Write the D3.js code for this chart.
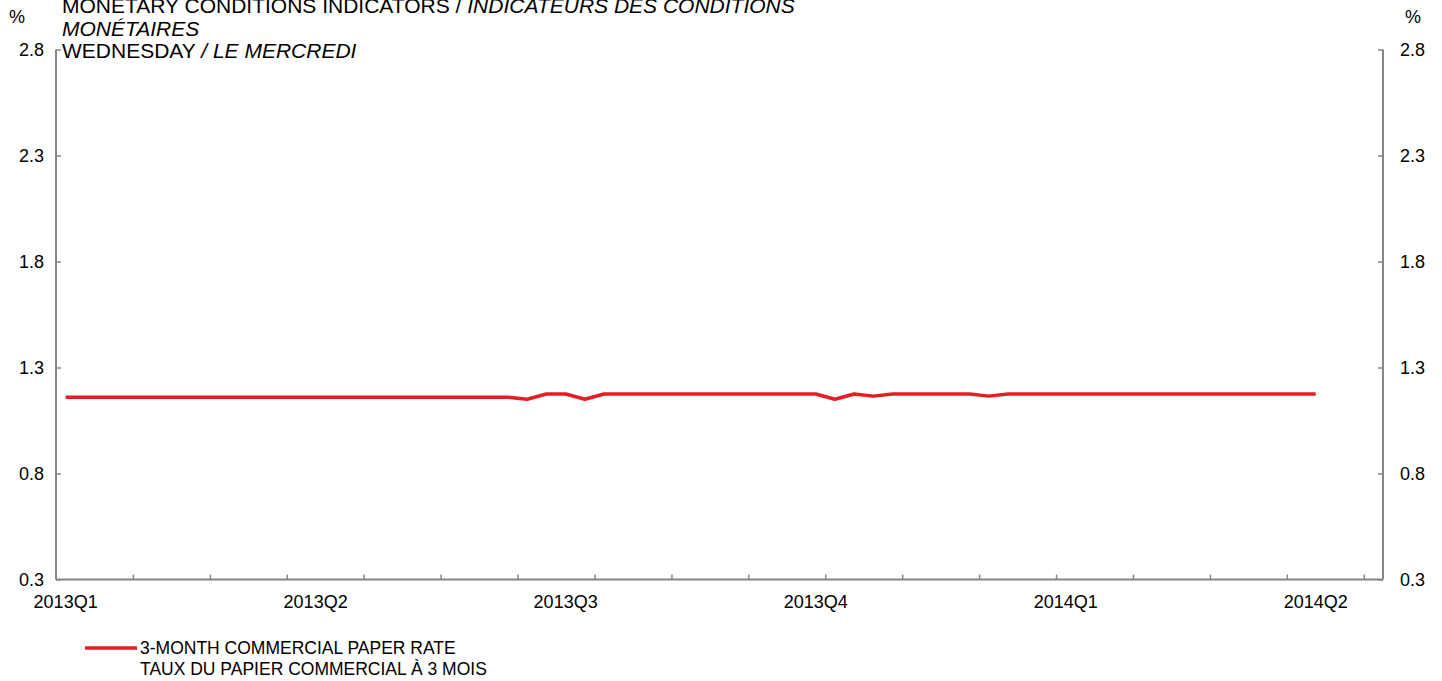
<!DOCTYPE html>
<html>
<head>
<meta charset="utf-8">
<script src="https://cdn.jsdelivr.net/npm/d3@7"></script>
<style>
    body { margin: 0; background: #fff; }
    svg { display: block; font-family: "Liberation Sans", Arial, sans-serif; }
    .axis path, .axis line { stroke: #868686; }
</style>
</head>
<body>
<svg id="chart" width="1442" height="681"></svg>
<script>
// weekly observations (Wednesdays), 2013-01-02 .. 2014-04-02
var startDate = new Date(2013, 0, 2),
    nWeeks = 66,
    nSlots = 69; // axis has a few empty weeks after the last point

// 3-month commercial paper rate, %
var cpRate = [
    1.16, 1.16, 1.16, 1.16, 1.16, 1.16, 1.16, 1.16, 1.16, 1.16,
    1.16, 1.16, 1.16, 1.16, 1.16, 1.16, 1.16, 1.16, 1.16, 1.16,
    1.16, 1.16, 1.16, 1.16, 1.15, 1.175, 1.175, 1.15, 1.175, 1.175,
    1.175, 1.175, 1.175, 1.175, 1.175, 1.175, 1.175, 1.175, 1.175, 1.175,
    1.15, 1.175, 1.165, 1.175, 1.175, 1.175, 1.175, 1.175, 1.165, 1.175,
    1.175, 1.175, 1.175, 1.175, 1.175, 1.175, 1.175, 1.175, 1.175, 1.175,
    1.175, 1.175, 1.175, 1.175, 1.175, 1.175
];

var yTicks = [0.3, 0.8, 1.3, 1.8, 2.3, 2.8];
var quarterLabels = ["2013Q1", "2013Q2", "2013Q3", "2013Q4", "2014Q1", "2014Q2"];
var quarterIndex = [0, 13, 26, 39, 52, 65];

var svg = d3.select("#chart"),
    margin = {left: 56, right: 59, top: 49.5, bottom: 101.5},
    width = 1442 - margin.left - margin.right,
    height = 681 - margin.top - margin.bottom,
    g = svg.append("g").attr("transform", "translate(" + margin.left + "," + margin.top + ")");

var slots = d3.range(nSlots);
var x = d3.scaleBand().domain(slots).range([0, width]);
var y = d3.scaleLinear().domain([0.3, 2.8]).range([height, 0]);

var data = cpRate.map(function (v, i) {
    return {i: i, date: d3.timeDay.offset(startDate, 7 * i), value: v};
});

// left axis, ticks inside
var yLeft = g.append("g").attr("class", "axis")
    .call(d3.axisRight(y).tickValues(yTicks).tickSize(5).tickFormat(""));
yLeft.select(".domain").attr("d", "M0," + height + "V0").attr("stroke-width", 2);
yLeft.selectAll("line").attr("stroke-width", 1.5);

var yRight = g.append("g").attr("class", "axis")
    .attr("transform", "translate(" + width + ",0)")
    .call(d3.axisLeft(y).tickValues(yTicks).tickSize(5).tickFormat(""));
yRight.select(".domain").attr("d", "M0," + height + "V0").attr("stroke-width", 2);
yRight.selectAll("line").attr("stroke-width", 1.5);

// y labels
g.selectAll(".ylab-l").data(yTicks).enter().append("text")
    .attr("x", -12).attr("y", function (d) { return y(d); })
    .attr("dy", "0.35em").attr("text-anchor", "end")
    .attr("font-size", 18).text(d3.format(".1f"));
g.selectAll(".ylab-r").data(yTicks).enter().append("text")
    .attr("x", width + 17).attr("y", function (d) { return y(d); })
    .attr("dy", "0.35em").attr("text-anchor", "start")
    .attr("font-size", 18).text(d3.format(".1f"));

svg.append("text").attr("x", 9).attr("y", 23).attr("font-size", 18).text("%");
svg.append("text").attr("x", 1405).attr("y", 23).attr("font-size", 18).text("%");

// x axis: tick every 4 weeks, inside
var xTickPos = d3.range(4, nSlots, 4).map(function (k) { return k * x.step(); });
var xAxis = g.append("g").attr("class", "axis")
    .attr("transform", "translate(0," + height + ")")
    .call(d3.axisTop(d3.scaleLinear().domain([0, width]).range([0, width]))
        .tickValues(xTickPos).tickSize(5).tickFormat(""));
xAxis.select(".domain").attr("d", "M0,0H" + width).attr("stroke-width", 2);
xAxis.selectAll("line").attr("stroke-width", 1.5);

g.selectAll(".xlab").data(quarterIndex).enter().append("text")
    .attr("x", function (d) { return x(d) + x.bandwidth() / 2; })
    .attr("y", height + 28)
    .attr("text-anchor", "middle").attr("font-size", 18)
    .text(function (d, i) { return quarterLabels[i]; });

// series
var line = d3.line()
    .x(function (d) { return x(d.i) + x.bandwidth() / 2; })
    .y(function (d) { return y(d.value); });

g.append("path").datum(data)
    .attr("fill", "none").attr("stroke", "#e31e24")
    .attr("stroke-width", 3.5).attr("stroke-linejoin", "round")
    .attr("d", line);

// title (top line is clipped by the page edge, as in the source)
var title = svg.append("text").attr("x", 62).attr("font-size", 21);
title.append("tspan").attr("x", 62).attr("y", 13).text("MONETARY CONDITIONS INDICATORS / ");
title.append("tspan").attr("font-style", "italic").text("INDICATEURS DES CONDITIONS");
title.append("tspan").attr("x", 62).attr("y", 36).attr("font-style", "italic").text("MONÉTAIRES");
title.append("tspan").attr("x", 62).attr("y", 58).text("WEDNESDAY ");
title.append("tspan").attr("font-style", "italic").text("/ LE MERCREDI");

// legend
var legend = svg.append("g").attr("transform", "translate(85,648)");
legend.append("line").attr("x1", 0).attr("x2", 52).attr("y1", 0).attr("y2", 0)
    .attr("stroke", "#e31e24").attr("stroke-width", 3.5);
legend.append("text").attr("x", 55).attr("y", 6).attr("font-size", 17.5)
    .text("3-MONTH COMMERCIAL PAPER RATE");
legend.append("text").attr("x", 55).attr("y", 27).attr("font-size", 17.5)
    .text("TAUX DU PAPIER COMMERCIAL À 3 MOIS");
</script>
</body>
</html>
